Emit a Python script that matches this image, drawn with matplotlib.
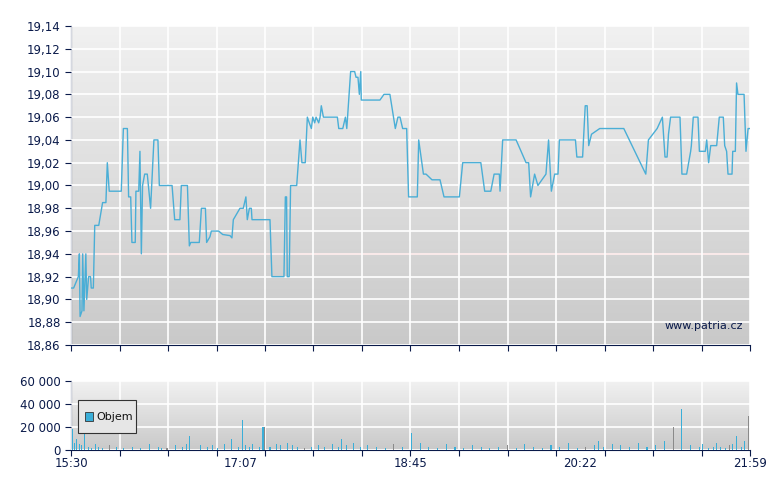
import matplotlib
matplotlib.use("Agg")
import matplotlib.pyplot as plt
import numpy as np
from matplotlib.patches import Rectangle

# minutes after 15:30 and prices
price_t = [0,1.5,4.2,4.8,5.2,6.3,6.7,7.4,8.5,9,10.1,11.2,11.6,12.8,13.6,15.9,18.1,20,20.8,21.9,28.8,30,32.3,33,34.2,34.9,36.8,37.2,38.8,39.5,40.3,41,42.2,43.7,45.6,47.5,49.8,50.6,57.9,59.4,62.4,63.2,66.7,67.8,68.6,73.5,74.7,77,77.7,79.6,80.4,84.6,86.9,91.1,92.2,93,96.8,98.7,100.2,101,102.2,103.3,103.7,114,115.1,122,122.8,123.5,123.9,125,125.8,129.3,131.2,132.3,134.2,135.4,136.5,137.7,138.5,139.6,140.4,141.9,142.7,143.4,144.6,152.6,153.4,155.7,157.2,158,160.2,162.5,163.3,164.4,165.2,166,166.3,177,179.3,182.7,185.8,187.3,188.5,190,192.3,193.4,198.4,199.2,201.9,203.4,206.8,211.4,213.7,222.5,224.4,234.8,237,240.5,242.4,245.4,245.8,247.3,255,260.7,262.2,263.3,265.6,267.5,272.1,273.6,275.2,277.1,279,279.8,289,289.8,293.1,294.6,295.7,296.6,298.2,302.9,316.7,329.3,330.8,335.8,338.8,340.3,341.5,342.3,343.5,348.9,350,352.7,355,355.4,356.5,359.2,360,363.4,364.2,365.3,366.5,369.9,371.4,373.7,374.5,375.6,376.4,378.7,379.1,380.6,381.3,382.1,385.6,386.7,387.9,389]
price_v = [18.91,18.91,18.92,18.94,18.885,18.89,18.94,18.89,18.94,18.90,18.92,18.92,18.91,18.91,18.965,18.965,18.985,18.985,19.02,18.995,18.995,19.05,19.05,18.99,18.99,18.95,18.95,18.995,18.995,19.03,18.94,19.00,19.01,19.01,18.98,19.04,19.04,19.00,19.00,18.97,18.97,19.00,19.00,18.947,18.95,18.95,18.98,18.98,18.95,18.955,18.96,18.96,18.957,18.956,18.954,18.97,18.98,18.98,18.99,18.97,18.98,18.98,18.97,18.97,18.92,18.92,18.99,18.99,18.92,18.92,19.00,19.00,19.04,19.02,19.02,19.06,19.055,19.05,19.06,19.055,19.06,19.055,19.06,19.07,19.06,19.06,19.05,19.05,19.06,19.05,19.10,19.10,19.095,19.095,19.08,19.10,19.075,19.075,19.08,19.08,19.05,19.06,19.06,19.05,19.05,18.99,18.99,19.04,19.01,19.01,19.005,19.005,18.99,18.99,19.02,19.02,18.995,18.995,19.01,19.01,18.995,19.04,19.04,19.02,19.02,18.99,19.01,19.00,19.01,19.04,18.995,19.01,19.01,19.04,19.04,19.025,19.025,19.07,19.07,19.035,19.045,19.05,19.05,19.01,19.04,19.05,19.06,19.025,19.025,19.045,19.06,19.06,19.01,19.01,19.03,19.035,19.06,19.06,19.03,19.03,19.04,19.02,19.035,19.035,19.06,19.06,19.035,19.03,19.01,19.01,19.03,19.03,19.09,19.08,19.08,19.03,19.05,19.05]
ref_price = 18.94

vol_t = [1,2,3,5,6,8,10,12,14,16,18,22,26,30,35,40,45,50,52,55,60,64,66,68,74,78,81,84,88,92,96,98,100,102,104,108,110,111,114,118,120,124,127,130,134,138,142,145,150,153,155,158,162,166,170,175,180,185,190,195,200,205,210,215,220,225,230,235,240,245,250,255,260,265,270,275,280,285,290,295,300,302,305,310,315,320,325,330,335,340,345,350,355,360,362,365,368,370,372,375,377,379,381,384,386,388]
vol_v = [18000,6000,10000,5000,4000,20000,3000,2000,5000,3000,2000,4000,3000,2000,3000,2000,5000,3000,2000,2000,4000,3000,5000,12000,4000,3000,4000,2000,5000,10000,3000,26000,4000,3000,5000,3000,20000,20000,3000,5000,4000,6000,4000,3000,2000,3000,4000,3000,5000,3000,10000,4000,6000,3000,4000,3000,2000,5000,3000,15000,6000,3000,2000,5000,3000,2000,4000,3000,2000,3000,4000,2000,5000,3000,2000,4000,3000,6000,2000,3000,4000,8000,3000,5000,4000,3000,6000,3000,4000,8000,20000,36000,4000,3000,5000,2000,3000,6000,3000,2000,4000,5000,12000,3000,8000,30000]
n = min(len(price_t), len(price_v))
price_t, price_v = price_t[:n], price_v[:n]
nv = min(len(vol_t), len(vol_v))
vol_t, vol_v = vol_t[:nv], vol_v[:nv]
vol_gray = [False]*nv
for i in (11,19,37,44,57,70,79,90,100,105):
    if i < nv:
        vol_gray[i] = True

xtick_labels = ["15:30","17:07","18:45","20:22","21:59"]
TOTAL = 389
navy = "#0a1a4a"

fig = plt.figure(figsize=(7.8,4.9), dpi=100)
fig.patch.set_facecolor("white")
ax = fig.add_axes([71/780, 1-345/490, 679/780, 319/490])
axv = fig.add_axes([71/780, 1-450/490, 679/780, 69/490])

grad = np.linspace(0,1,256).reshape(-1,1)
for a in (ax, axv):
    a.imshow(grad, aspect="auto", cmap=matplotlib.colors.LinearSegmentedColormap.from_list("g",["#f1f1f1","#c9c9c9"]),
             extent=[0,1,0,1], transform=a.transAxes, zorder=0)
    for s in ("top","right"):
        a.spines[s].set_visible(False)
    a.spines["left"].set_color(navy)
    a.spines["bottom"].set_color(navy)
    a.set_xlim(0, TOTAL)
    a.set_xticks(np.arange(0, 15)*TOTAL/14)
    a.grid(True, color="white", lw=1.2, zorder=1)
    a.set_axisbelow(False)
    a.tick_params(colors=navy, labelsize=8.5, length=4, direction="out")

ax.set_ylim(18.86, 19.14)
yt = np.round(np.arange(18.86, 19.1401, 0.02), 2)
ax.set_yticks(yt)
ax.set_yticklabels([f"{v:.2f}".replace(".", ",") for v in yt])
ax.set_xticklabels([])
ax.plot(price_t, price_v, color="#4aaed6", lw=1.0, zorder=3)
ax.axhline(ref_price, color="#e07070", lw=1.2, zorder=2)
ax.text(0.99, 0.06, "www.patria.cz", transform=ax.transAxes, ha="right", va="center", color=navy, fontsize=8)

cols = ["#8a8a8a" if g else "#3aaed8" for g in vol_gray]
axv.bar(vol_t, vol_v, width=0.6, color=cols, zorder=3)
axv.set_ylim(0, 60000)
axv.set_yticks([0,20000,40000,60000])
axv.set_yticklabels(["0","20 000","40 000","60 000"])
axv.set_xticklabels([])
for i, lab in enumerate(xtick_labels):
    axv.text(i*TOTAL/4, -0.1, lab, transform=axv.get_xaxis_transform(), ha="center", va="top", color=navy, fontsize=8.5)
axv.add_patch(Rectangle((0.01,0.25),0.085,0.47, transform=axv.transAxes, facecolor="#e6e6e6", edgecolor="#333333", lw=0.8, zorder=4))
axv.add_patch(Rectangle((0.02,0.42),0.012,0.13, transform=axv.transAxes, facecolor="#3aaed8", edgecolor="#333333", lw=0.6, zorder=5))
axv.text(0.037, 0.485, "Objem", transform=axv.transAxes, va="center", fontsize=8, color="#111111", zorder=5)

fig.savefig("out.png", dpi=100)
